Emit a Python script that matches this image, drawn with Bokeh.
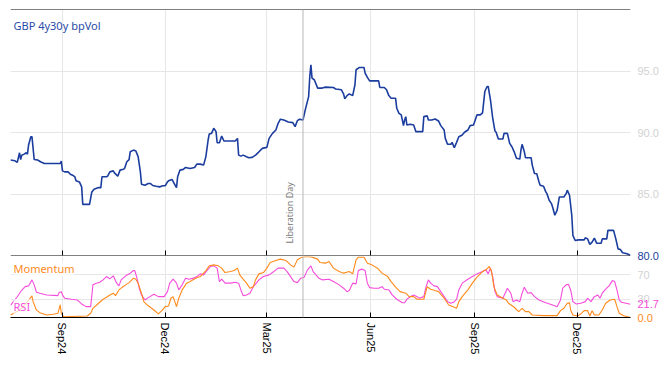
import datetime as dt
from math import pi

from bokeh.plotting import figure
from bokeh.layouts import column
from bokeh.models import (Range1d, LinearAxis, FixedTicker, MonthsTicker, CustomJSTickFormatter,
                          DatetimeTickFormatter, NumeralTickFormatter, Span, Label)
from bokeh.embed import file_html
from bokeh.resources import INLINE

# ---------------- data ----------------
BASE = dt.datetime(2024, 9, 1)          # day 0 of the day offsets below
EVENT_DATE = dt.datetime(2025, 4, 2)
EVENT_NAME = "Liberation Day"
TITLE = "GBP 4y30y bpVol"
MOM_NAME = "Momentum"
RSI_NAME = "RSI"

vol_days = [-46, -42, -40, -38, -37, -36, -34, -32, -31, -30, -28, -27, -25, -22, -19, -16, -2, -1,
            0, 2, 5, 7, 9, 11, 12, 15, 17, 18, 24, 26, 28, 32, 34, 35, 39, 40, 42, 45, 46, 49, 51,
            54, 55, 57, 59, 60, 63, 65, 67, 69, 70, 73, 76, 78, 80, 83, 86, 89, 91, 93, 94, 97, 99,
            101, 102, 104, 107, 109, 113, 117, 119, 122, 125, 127, 129, 130, 132, 134, 136, 137, 139,
            141, 143, 147, 153, 155, 156, 158, 160, 163, 165, 168, 171, 174, 177, 181, 183, 186, 189,
            191, 193, 196, 200, 204, 206, 208, 210, 213, 215, 218, 219, 220, 221, 223, 226, 230, 233,
            240, 242, 247, 249, 250, 252, 254, 257, 259, 260, 263, 267, 268, 270, 272, 280, 281, 285,
            287, 289, 291, 295, 296, 298, 300, 302, 303, 304, 305, 308, 311, 313, 319, 320, 323, 324,
            327, 330, 333, 335, 338, 339, 341, 344, 345, 347, 349, 351, 354, 356, 359, 361, 364, 367,
            370, 372, 374, 376, 377, 379, 381, 383, 384, 386, 390, 391, 394, 396, 398, 400, 402, 405,
            406, 407, 409, 410, 415, 416, 418, 420, 422, 423, 426, 428, 429, 431, 433, 434, 436, 438,
            440, 444, 446, 447, 449, 451, 452, 454, 457, 462, 463, 465, 467, 469, 471, 473, 477, 478,
            482, 483, 488, 490, 492, 494, 496, 500, 503]
vol_vals = [87.76, 87.70, 87.57, 88.35, 87.80, 88.16, 88.24, 88.35, 88.24, 88.98, 89.66, 89.66, 87.80,
            87.76, 87.60, 87.48, 87.48, 87.67,
            86.88, 86.80, 86.80, 86.61, 86.53, 86.40, 86.07, 85.98, 85.58, 84.16, 84.16, 85.17, 85.39,
            85.52, 85.52, 86.40, 86.40, 86.45, 86.80, 86.88, 86.72, 86.45, 86.94,
            87.02, 87.07, 87.62, 87.80, 88.43, 88.57, 88.50, 88.04, 86.80, 85.80, 85.71, 85.85, 85.85,
            85.69, 85.63, 85.58, 85.67, 85.67, 85.98, 86.07, 86.18, 85.85,
            85.52, 86.40, 86.94, 87.00, 87.16, 87.08, 87.16, 87.43, 87.43, 87.35, 88.04, 89.39, 89.88,
            89.93, 90.34, 90.07, 89.17, 89.17,
            89.71, 89.31, 89.31, 89.31, 89.52, 88.16, 88.08, 88.16, 88.03, 87.95, 87.98, 88.16, 88.43,
            88.71, 88.79, 89.52, 89.93, 90.20,
            90.75, 91.08, 91.02, 90.86, 90.80, 90.48, 90.96, 91.08, 91.02, 91.84, 92.92, 94.55, 95.51,
            94.42, 94.29, 93.61, 93.61, 93.69,
            93.66, 93.53, 93.47, 93.12, 92.73, 93.00, 93.14, 93.00, 93.88, 95.10, 95.29, 95.29, 94.83,
            94.48, 94.20, 94.20, 93.66, 93.66,
            93.47, 93.00, 92.78, 92.78, 91.97, 91.56, 91.43, 90.56, 91.02, 91.29, 90.61, 90.67, 90.61,
            90.07, 90.07, 91.29, 91.35, 91.02,
            91.02, 91.10, 90.94, 90.56, 90.20, 89.52, 89.04, 89.04, 89.20, 88.76, 89.20, 89.66, 89.80,
            90.02, 90.20, 90.56, 90.61, 91.43,
            91.43, 91.60, 93.33, 93.74, 93.74, 92.65, 91.16, 90.12, 90.02, 89.47, 89.47, 89.93, 89.93,
            89.12, 88.84, 88.43, 87.90, 87.84,
            88.57, 89.04, 88.43, 87.95, 87.95, 87.35, 86.67, 86.65, 85.98, 85.71, 85.63, 85.17, 85.03,
            84.49, 84.22, 83.94, 83.27, 83.67,
            84.76, 84.76, 85.03, 85.31, 84.90, 83.27, 81.63, 81.22, 81.27, 81.27, 81.44, 81.35, 80.90,
            81.09, 81.41, 81.00, 81.00, 81.35,
            81.35, 82.04, 82.04, 81.35, 80.54, 80.49, 80.22, 80.14, 80.00]

rsi_days = [-46, -40, -36, -33, -30, -27, -25, -23, -20, -14, -4, -3, -1, 0, 2, 8, 13, 17, 21, 25, 27,
            30, 33, 36, 39, 42, 45, 48, 50, 52, 56, 60, 63, 64, 66, 68, 70, 73, 76, 81, 85, 90, 93, 95,
            98, 101, 103, 106, 109, 112, 116, 119, 122, 125, 128, 131, 134, 137, 139, 141, 144, 149,
            153, 156, 158, 160, 163, 166, 169, 174, 178, 183, 186, 189, 191, 196, 199, 202, 205, 208,
            211, 214, 217, 220, 222, 227, 230, 236, 240, 245, 249, 252, 254, 257, 260, 262, 265, 268,
            270, 272, 276, 280, 283, 285, 289, 292, 296, 301, 303, 305, 308, 311, 314, 316, 320, 322,
            324, 326, 329, 332, 335, 338, 341, 344, 347, 349, 351, 354, 359, 363, 367, 372, 375, 377,
            379, 381, 383, 385, 390, 392, 394, 397, 399, 402, 405, 407, 409, 412, 415, 418, 422, 428,
            434, 438, 441, 443, 446, 448, 450, 452, 455, 459, 463, 465, 468, 471, 474, 476, 478, 481,
            484, 487, 489, 491, 493, 495, 499, 503]
rsi_vals = [20.0, 34.0, 45.0, 50.6, 51.8, 61.7, 53.5, 41.4, 39.8, 37.0, 35.9, 40.8, 42.4, 37.0, 31.6,
            29.9, 28.8, 22.2, 17.8, 17.8, 53.5,
            56.3, 57.9, 61.7, 67.1, 63.3, 68.3, 56.3, 51.8, 61.7, 68.3, 72.7, 77.0, 77.0, 64.5, 48.0,
            37.0, 28.8, 32.6, 38.2, 34.2, 34.2, 42.4, 56.3,
            62.8, 56.3, 45.2, 53.5, 64.5, 62.8, 64.5, 67.1, 71.5, 69.9, 77.0, 83.6, 84.7, 80.9, 58.9,
            62.8, 56.3, 56.3,
            57.9, 56.3, 45.2, 35.9, 37.0, 39.8, 50.6, 61.7, 67.1, 69.9, 73.7, 78.1, 80.9, 80.9, 75.3,
            67.1, 58.9, 57.2,
            64.5, 66.1, 78.1, 84.7, 75.3, 64.5, 61.7, 62.8, 58.9, 53.5, 48.0, 42.4, 44.1, 56.3, 55.1,
            77.0, 79.3, 77.0,
            56.3, 49.0, 48.0, 48.0, 50.6, 46.4, 45.2, 37.0, 29.9, 24.3, 24.3, 29.9, 34.2, 37.0, 34.2,
            31.6, 34.2, 50.6,
            61.7, 56.3, 51.8, 50.6, 42.4, 34.2, 26.0, 23.4, 26.0, 29.9, 45.2, 56.3, 62.8, 67.1, 71.5,
            75.3, 78.1, 71.5,
            80.9, 67.1, 42.4, 34.2, 31.6, 39.8, 48.0, 39.8, 26.0, 28.8, 26.0, 39.8, 49.7, 39.8, 40.8,
            34.2, 28.8, 24.3,
            20.6, 17.8, 28.8, 48.0, 53.5, 54.6, 45.2, 26.0, 22.2, 23.4, 26.0, 31.6, 26.0, 34.2, 37.0,
            31.6, 39.8, 46.4,
            51.8, 60.5, 58.9, 45.2, 28.8, 25.0, 23.4, 21.7]

mom_days = [-46, -38, -32, -27, -26, -23, -20, -14, -8, -4, -2, -1, 1, 22, 25, 27, 32, 36, 39, 42, 45,
            47, 50, 53, 56, 59, 63, 65, 67, 70, 72, 75, 79, 82, 85, 88, 91, 94, 96, 98, 101, 103, 106,
            110, 113, 118, 122, 127, 130, 134, 138, 141, 144, 149, 152, 155, 157, 160, 163, 166, 169,
            171, 174, 178, 181, 184, 189, 193, 198, 202, 205, 208, 212, 217, 221, 226, 228, 233, 236,
            240, 245, 249, 254, 257, 260, 262, 267, 270, 274, 279, 283, 288, 291, 295, 299, 304, 307,
            311, 314, 320, 323, 326, 330, 333, 338, 342, 347, 349, 351, 354, 359, 363, 367, 372, 375,
            378, 380, 382, 385, 390, 393, 395, 400, 404, 407, 410, 413, 416, 426, 438, 441, 444, 447,
            449, 450, 452, 456, 459, 462, 465, 467, 469, 471, 475, 478, 481, 485, 489, 491, 493, 497,
            503]
mom_vals = [4.0, 12.0, 23.4, 35.4, 26.0, 12.0, 7.9, 4.1, 5.3, 6.9, 20.6, 6.9, 1.3, 2.5, 6.9, 15.1,
            23.4, 29.9, 33.2, 37.0, 39.8,
            35.9, 45.2, 49.7, 53.5, 57.2, 64.5, 62.8, 56.3, 39.8, 26.0, 20.6, 15.1, 10.7, 5.8, 11.2,
            17.8, 18.9, 31.6, 34.2, 17.8, 31.6, 45.2,
            56.3, 58.9, 64.5, 67.1, 77.0, 84.7, 86.3, 84.7, 80.9, 73.7, 75.3, 77.0, 80.9, 69.9, 62.8,
            56.3, 48.0, 50.6,
            61.7, 71.5, 73.7, 80.9, 90.1, 93.4, 95.7, 93.4, 86.3, 82.6, 94.6, 99.0, 100.0, 99.0, 95.7,
            90.1, 89.1, 91.8,
            80.9, 75.3, 72.7, 75.3, 71.5, 94.6, 99.0, 99.0, 89.1, 86.3, 80.9, 72.7, 67.1, 58.9, 49.7,
            42.4, 39.8, 34.2,
            34.2, 29.9, 29.9, 50.6, 46.4, 44.1, 42.4, 31.6, 20.6, 16.8, 15.1, 26.0, 34.2, 45.2, 56.3,
            66.1, 75.3, 78.1,
            83.6, 75.3, 50.6, 37.0, 31.6, 28.8, 23.4, 16.8, 9.6, 15.1, 9.6, 9.6, 4.1, 3.0, 3.0, 11.2,
            15.1, 23.4,
            24.0, 12.3, 4.1, 2.5, 5.8, 11.2, 11.2, 2.5, 11.2, 4.1, 4.1, 12.3, 23.4, 28.8, 29.9, 17.8,
            6.9, 3.0,
            0.0]

VOL_TICKS = [85, 90, 95]
OSC_TICKS = [30, 70]
TICK_MONTHS = [2, 5, 8, 11]   # Mar, Jun, Sep, Dec (0-based)

# ---------------- styles ----------------
NAVY = "#1b3d9e"
TITLE_COLOR = "#2a4aa8"
ORANGE = "#ff8a1c"
PINK = "#f54cdb"
GRID = "#e6e6e6"
TICKLBL = "#d2d2d2"
AXFONT = "Liberation Sans"
TXTFONT = "Noto Sans"
OVERLAP = 6   # px the lower panel is pulled up under the upper canvas's spare bottom border


def to_dates(days):
    return [BASE + dt.timedelta(days=d) for d in days]


vol_dates = to_dates(vol_days)
rsi_dates = to_dates(rsi_days)
mom_dates = to_dates(mom_days)

x_range = Range1d(vol_dates[0], vol_dates[-1])


def style_right_axis(ax, ticks, fmt, color):
    ax.ticker = FixedTicker(ticks=ticks)
    ax.formatter = NumeralTickFormatter(format=fmt)
    ax.axis_line_color = None
    ax.major_tick_line_color = None
    ax.minor_tick_line_color = None
    ax.major_tick_in = 0
    ax.major_tick_out = 0
    ax.major_label_standoff = 7
    ax.major_label_text_color = color
    ax.major_label_text_font = AXFONT
    ax.major_label_text_font_size = "11px"


def last_value_label(fig, x, y, color):
    fig.add_layout(Label(x=x, y=y, x_offset=7, text=f"{y:.1f}", text_align="left",
                         text_baseline="middle", text_color=color, text_font=AXFONT,
                         text_font_size="11px"), "right")


# ---------------- top panel ----------------
top = figure(x_axis_type="datetime", x_range=x_range, y_range=Range1d(80, 100),
             frame_width=620, frame_height=246, min_border_left=10, min_border_right=34,
             min_border_top=9, min_border_bottom=1 + OVERLAP, toolbar_location=None,
             output_backend="svg", y_axis_location="right")
top.outline_line_color = None

xb = top.below[0]
xb.fixed_location = top.y_range.start
xb.ticker = MonthsTicker(months=TICK_MONTHS)
xb.formatter = CustomJSTickFormatter(code="return ''")
xb.major_label_standoff = 0
xb.major_tick_in = 5
xb.major_tick_out = 0
xb.minor_tick_line_color = None
xb.axis_line_color = "black"
xb.major_tick_line_color = "black"

above = LinearAxis(fixed_location=top.y_range.end, ticker=FixedTicker(ticks=[]),
                   major_tick_in=0, major_tick_out=0, minor_tick_in=0, minor_tick_out=0,
                   major_label_standoff=0, axis_line_color="black")
top.add_layout(above, "above")

style_right_axis(top.right[0], VOL_TICKS, "0.0", TICKLBL)
top.xgrid[0].ticker = MonthsTicker(months=TICK_MONTHS)
top.ygrid[0].ticker = FixedTicker(ticks=VOL_TICKS)
top.xgrid.grid_line_color = GRID
top.ygrid.grid_line_color = GRID

top.line(vol_dates, vol_vals, line_color=NAVY, line_width=1.6)

top.add_layout(Span(location=EVENT_DATE, dimension="height", line_color="#b8b8b8", line_width=1))
top.add_layout(Label(x=EVENT_DATE, y=top.y_range.start, x_offset=-13, y_offset=12, angle=pi / 2,
                     text=EVENT_NAME, text_align="left", text_baseline="middle",
                     text_color="#7a7a7a", text_font=TXTFONT, text_font_size="9px"))
top.add_layout(Label(x=vol_dates[0], y=top.y_range.end, x_offset=3, y_offset=-16,
                     text=TITLE, text_align="left", text_baseline="middle",
                     text_color=TITLE_COLOR, text_font=TXTFONT, text_font_size="11px"))
last_value_label(top, vol_dates[-1], vol_vals[-1], NAVY)

# ---------------- bottom panel ----------------
bot = figure(x_axis_type="datetime", x_range=x_range, y_range=Range1d(0, 100),
             frame_width=620, frame_height=61, min_border_left=10, min_border_right=34,
             min_border_top=0, min_border_bottom=0, toolbar_location=None,
             output_backend="svg", y_axis_location="right",
             styles={"margin-top": f"-{OVERLAP}px"})
bot.outline_line_color = None
bot.border_fill_alpha = 0

xl = bot.below[0]
xl.ticker = MonthsTicker(months=TICK_MONTHS)
xl.formatter = DatetimeTickFormatter(months="%b%y", days="%b%y", years="%b%y")
xl.major_label_orientation = "vertical"
xl.major_label_text_font = AXFONT
xl.major_label_text_font_size = "11px"
xl.major_label_text_color = "black"
xl.major_label_standoff = 5
xl.major_tick_in = 5
xl.major_tick_out = 0
xl.minor_tick_line_color = None
xl.axis_line_color = "black"

style_right_axis(bot.right[0], OSC_TICKS, "0", TICKLBL)
bot.xgrid[0].ticker = MonthsTicker(months=TICK_MONTHS)
bot.ygrid[0].ticker = FixedTicker(ticks=OSC_TICKS)
bot.xgrid.grid_line_color = GRID
bot.ygrid.grid_line_color = GRID

bot.line(rsi_dates, rsi_vals, line_color=PINK, line_width=1.1)
bot.line(mom_dates, mom_vals, line_color=ORANGE, line_width=1.1)
bot.add_layout(Span(location=EVENT_DATE, dimension="height", line_color="#b8b8b8", line_width=1))

bot.add_layout(Label(x=mom_dates[0], y=bot.y_range.end, x_offset=3, y_offset=-12, text=MOM_NAME,
                     text_align="left", text_baseline="middle", text_color=ORANGE,
                     text_font=TXTFONT, text_font_size="11px",
                     background_fill_color="white", background_fill_alpha=0.7))
bot.add_layout(Label(x=rsi_dates[0], y=bot.y_range.start, x_offset=3, y_offset=11, text=RSI_NAME,
                     text_align="left", text_baseline="middle", text_color=PINK,
                     text_font=TXTFONT, text_font_size="11px",
                     background_fill_color="white", background_fill_alpha=0.7))
last_value_label(bot, rsi_dates[-1], rsi_vals[-1], PINK)
last_value_label(bot, mom_dates[-1], mom_vals[-1], ORANGE)

layout = column(top, bot, spacing=0)
open("out.html", "w").write(file_html(layout, INLINE))
